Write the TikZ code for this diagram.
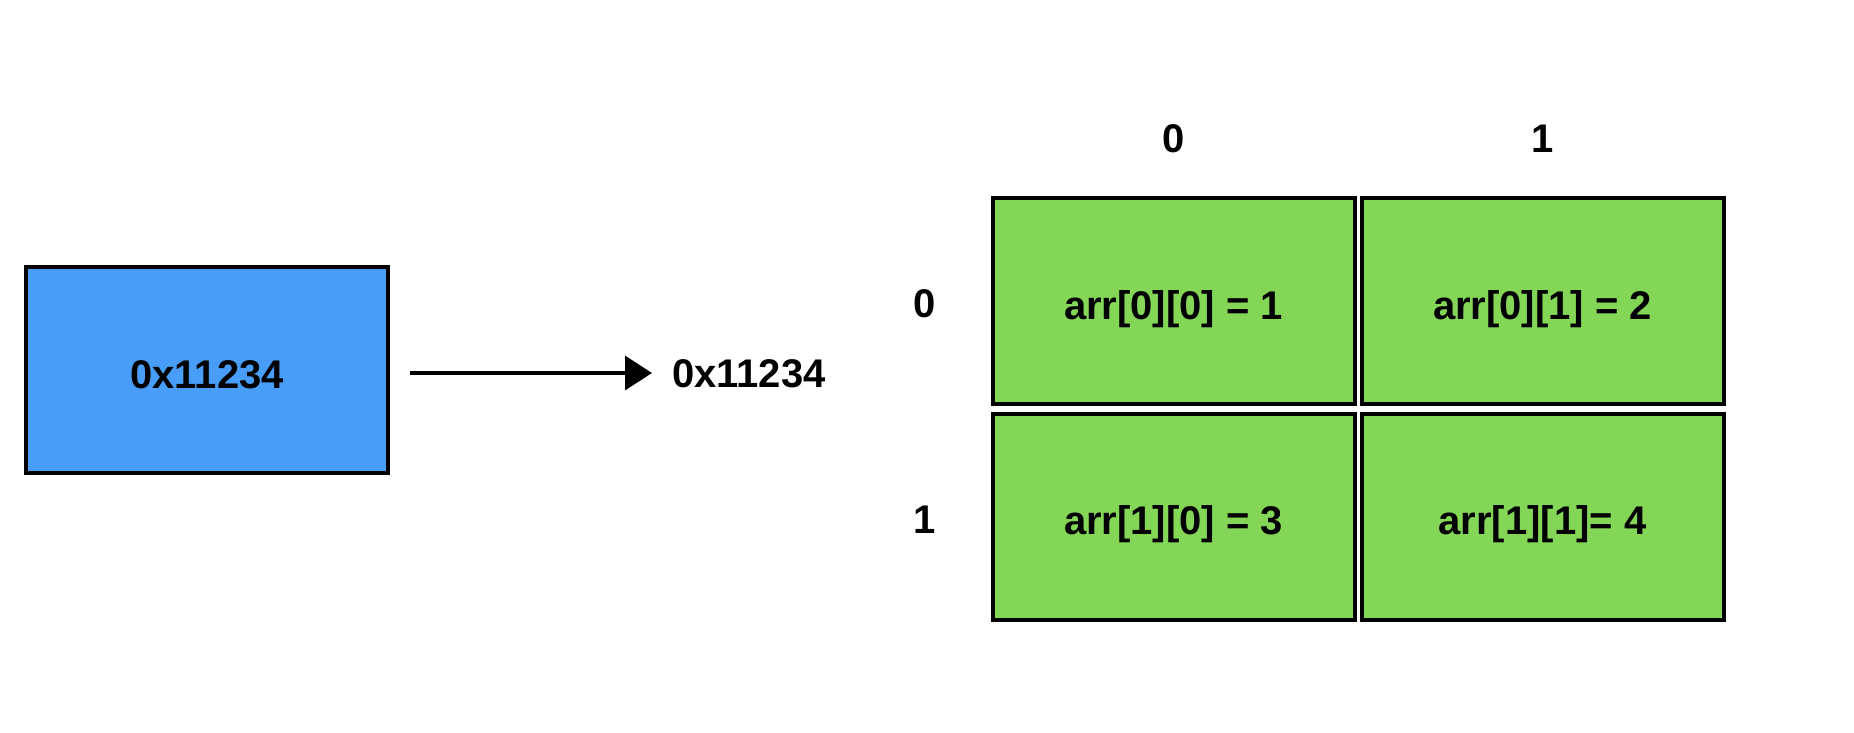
\documentclass[tikz,border=0pt]{standalone}
\usepackage{fontspec}
\setmainfont{Liberation Sans}
\usetikzlibrary{arrows.meta}
\definecolor{boxblue}{HTML}{479DF8}
\definecolor{boxgreen}{HTML}{83D656}
\tikzset{
  lbl/.style={font=\fontsize{40}{48}\selectfont\bfseries, inner sep=0pt, text height=29pt, text depth=0pt},
  memcell/.style={draw=black, line width=4pt, minimum width=362pt, minimum height=206pt, inner sep=0pt, text height=36pt, text depth=0pt, font=\fontsize{40}{48}\selectfont\bfseries},
  ptrbox/.style={memcell, fill=boxblue},
  arrcell/.style={memcell, fill=boxgreen},
  ptrarrow/.style={line width=3.5pt, -{Triangle[length=27pt,width=34pt]}}
}
\begin{document}
\begin{tikzpicture}[x=1pt,y=-1pt]
\useasboundingbox (0,0) rectangle (1854,732);
\node[ptrbox] (p) at (207,370) {0x11234};
\node[lbl, anchor=west] (addr) at (672,373) {0x11234};
\draw[ptrarrow, shorten <=20pt, shorten >=20pt] (p.east |- addr.west) -- (addr.west);
\node[arrcell] (a00) at (1173.5,301) {arr[0][0] = 1};
\node[arrcell] (a01) at (1542.5,301) {arr[0][1] = 2};
\node[arrcell] (a10) at (1173.5,516.5) {arr[1][0] = 3};
\node[arrcell] (a11) at (1542.5,516.5) {arr[1][1]= 4};
\node[lbl] (c0) at (1173.5,138) {0};
\node[lbl] (c1) at (1542.5,138) {1};
\node[lbl] (r0) at (925,303) {0};
\node[lbl] (r1) at (925,519) {1};
\end{tikzpicture}
\end{document}
